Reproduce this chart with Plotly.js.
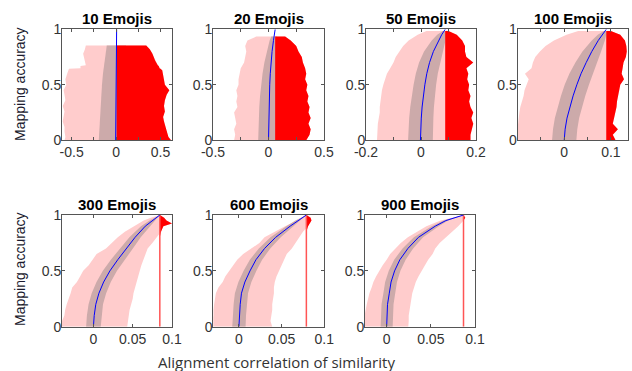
<!DOCTYPE html>
<html><head><meta charset="utf-8">
<script src="https://cdn.plot.ly/plotly-3.0.1.min.js"></script>
<style>html,body{margin:0;padding:0;background:#fff}#chart{width:632px;height:371px}</style>
</head><body><div id="chart"></div>
<script>
// ---------- data ----------
const panelTitles = ['10 Emojis','20 Emojis','50 Emojis','100 Emojis','300 Emojis','600 Emojis','900 Emojis'];
const observed = [0.007, 0.06, 0.088, 0.09, 0.0845, 0.079, 0.087];

// mapping-accuracy grid for the mean curve and its SD band
const accGrid = [0,0.1,0.2,0.3,0.4,0.5,0.6,0.7,0.8,0.9,0.95,1];

const mean10  = [-0.004,-0.003,-0.002,-0.002,-0.001,0,0.001,0.002,0.003,0.005,0.006,0.007];
const sd10    = [0.19,0.185,0.178,0.172,0.165,0.158,0.148,0.135,0.118,0.1,0.09,0.08];
const mean20  = [0,0.001,0.002,0.004,0.007,0.011,0.016,0.023,0.032,0.045,0.052,0.06];
const sd20    = [0.093,0.092,0.09,0.087,0.083,0.078,0.07,0.06,0.048,0.035,0.02,0];
const mean50  = [-0.002,-0.001,0.001,0.004,0.008,0.014,0.021,0.031,0.045,0.064,0.075,0.088];
const sd50    = [0.045,0.045,0.044,0.043,0.042,0.041,0.04,0.038,0.034,0.025,0.016,0];
const mean100 = [0,0.002,0.006,0.012,0.019,0.027,0.036,0.047,0.059,0.073,0.081,0.09];
const sd100   = [0.026,0.026,0.026,0.026,0.026,0.026,0.025,0.023,0.02,0.014,0.009,0];
const mean300 = [0,0.001,0.003,0.007,0.013,0.021,0.031,0.042,0.053,0.066,0.075,0.0845];
const sd300   = [0.0093,0.0093,0.0092,0.0092,0.0091,0.009,0.0088,0.0082,0.0072,0.0055,0.0035,0];
const mean600 = [0,0.0005,0.0015,0.003,0.007,0.013,0.02,0.03,0.043,0.06,0.069,0.079];
const sd600   = [0.0078,0.0078,0.0077,0.0077,0.0076,0.0075,0.0072,0.0067,0.006,0.0045,0.0028,0];
const mean900 = [0,0.0005,0.001,0.003,0.005,0.009,0.015,0.024,0.036,0.055,0.067,0.087];
const sd900   = [0.0068,0.0068,0.0068,0.0067,0.0067,0.0066,0.0065,0.006,0.0052,0.004,0.0025,0];

// envelopes of the null distribution (accuracy level, lower and upper correlation)
const envY10 = [0,0.03,0.08,0.12,0.17,0.21,0.26,0.31,0.36,0.41,0.45,0.5,0.55,0.6,0.63,0.645,0.65,0.67,0.675,0.72,0.78,0.82,0.855];
const lo10   = [-0.58,-0.57,-0.58,-0.58,-0.6,-0.59,-0.58,-0.6,-0.57,-0.58,-0.59,-0.56,-0.57,-0.55,-0.54,-0.53,-0.4,-0.4,-0.34,-0.35,-0.37,-0.35,-0.34];
const hi10   = [0.62,0.59,0.57,0.56,0.54,0.53,0.55,0.54,0.55,0.57,0.6,0.55,0.54,0.53,0.52,0.5,0.49,0.48,0.47,0.44,0.41,0.38,0.34];

const envY20 = [0,0.05,0.1,0.15,0.2,0.25,0.3,0.35,0.4,0.45,0.5,0.55,0.6,0.65,0.7,0.75,0.8,0.85,0.9,0.935];
const lo20   = [-0.31,-0.3,-0.31,-0.29,-0.3,-0.31,-0.28,-0.29,-0.28,-0.29,-0.27,-0.27,-0.26,-0.25,-0.22,-0.21,-0.2,-0.21,-0.19,-0.11];
const hi20   = [0.34,0.37,0.38,0.36,0.38,0.36,0.37,0.35,0.36,0.34,0.35,0.33,0.34,0.33,0.31,0.3,0.27,0.25,0.2,0.15];

const envY50 = [0,0.05,0.1,0.15,0.2,0.25,0.3,0.35,0.4,0.45,0.5,0.55,0.6,0.65,0.7,0.75,0.8,0.85,0.9,0.95,0.985];
const lo50   = [-0.16,-0.16,-0.158,-0.157,-0.154,-0.15,-0.15,-0.148,-0.145,-0.142,-0.137,-0.13,-0.124,-0.112,-0.1,-0.092,-0.078,-0.065,-0.045,-0.012,0.02];
const hi50   = [0.18,0.18,0.185,0.19,0.183,0.19,0.18,0.175,0.18,0.172,0.175,0.168,0.172,0.165,0.19,0.165,0.16,0.16,0.15,0.13,0.1];

const envY100 = [0,0.05,0.1,0.15,0.2,0.25,0.3,0.35,0.4,0.45,0.5,0.55,0.6,0.65,0.7,0.75,0.8,0.85,0.9,0.95,0.985];
const lo100   = [-0.105,-0.105,-0.1,-0.099,-0.098,-0.096,-0.094,-0.09,-0.087,-0.085,-0.08,-0.076,-0.084,-0.07,-0.067,-0.062,-0.052,-0.04,-0.022,0.005,0.03];
const hi100   = [0.11,0.104,0.115,0.104,0.107,0.11,0.112,0.113,0.115,0.118,0.12,0.128,0.123,0.125,0.127,0.132,0.134,0.133,0.13,0.12,0.1];

const envY300 = [0,0.05,0.1,0.15,0.2,0.25,0.3,0.35,0.4,0.45,0.5,0.55,0.6,0.65,0.7,0.75,0.8,0.85,0.9,0.925,0.95,0.975,1];
const lo300   = [-0.042,-0.04,-0.037,-0.036,-0.034,-0.031,-0.029,-0.027,-0.021,-0.017,-0.013,-0.006,-0.001,0.004,0.016,0.023,0.031,0.04,0.052,0.058,0.064,0.073,0.084];
const hi300   = [0.043,0.044,0.045,0.046,0.048,0.05,0.051,0.053,0.055,0.057,0.059,0.061,0.063,0.066,0.069,0.075,0.081,0.086,0.089,0.1,0.093,0.09,0.085];

const envY600 = [0,0.05,0.1,0.15,0.2,0.25,0.3,0.35,0.4,0.45,0.5,0.55,0.6,0.65,0.7,0.75,0.8,0.85,0.9,0.95,0.975,1];
const lo600   = [-0.031,-0.031,-0.03,-0.03,-0.029,-0.028,-0.027,-0.024,-0.019,-0.016,-0.011,-0.007,-0.002,0.005,0.014,0.024,0.03,0.042,0.054,0.068,0.073,0.079];
const hi600   = [0.039,0.037,0.038,0.039,0.039,0.04,0.041,0.041,0.042,0.044,0.047,0.05,0.053,0.056,0.062,0.067,0.071,0.075,0.081,0.085,0.084,0.08];

const envY900 = [0,0.05,0.1,0.15,0.2,0.25,0.3,0.35,0.4,0.45,0.5,0.55,0.6,0.65,0.7,0.75,0.8,0.85,0.9,0.95,0.975,1];
const lo900   = [-0.026,-0.026,-0.025,-0.024,-0.0225,-0.021,-0.0195,-0.017,-0.015,-0.012,-0.0085,-0.0045,0,0.004,0.01,0.016,0.024,0.034,0.045,0.061,0.073,0.085];
const hi900   = [0.0245,0.025,0.025,0.026,0.027,0.028,0.029,0.031,0.033,0.036,0.039,0.043,0.047,0.052,0.055,0.06,0.067,0.074,0.081,0.087,0.089,0.087];

// tick labels
const yTickVals = [0,0.5,1];
const yTickText = ['0','0.5','1'];
const xTickVals = [[-0.5,-0.25,0,0.25,0.5],[-0.5,-0.25,0,0.25,0.5],[-0.2,-0.1,0,0.1,0.2],[-0.05,0,0.05,0.1],[0,0.05,0.1],[0,0.05,0.1],[0,0.05,0.1]];
const xTickText = [['-0.5','','0','','0.5'],['-0.5','','0','','0.5'],['-0.2','','0','','0.2'],['','0','','0.1'],['0','0.05','0.1'],['0','0.05','0.1'],['0','0.05','0.1']];

// ---------- layout (pixel geometry) ----------
const W = 632, H = 371;
const boxes = [ // [left,right,top,bottom] in px
  [62,172,29.3,140.3],[213,324,29.3,140.3],[366,476,29.3,140.3],[517.5,627.5,29.3,140.3],
  [62,172,215,326.7],[213.3,324.3,215,326.7],[365,475,215,326.7]
];
const xRanges = [[-0.608,0.63],[-0.5,0.5],[-0.2,0.2],[-0.1,0.1355],[-0.04,0.1],[-0.03,0.1],[-0.0245,0.1]];

const panels = [
  {mean:mean10, sd:sd10, envY:envY10, lo:lo10, hi:hi10},
  {mean:mean20, sd:sd20, envY:envY20, lo:lo20, hi:hi20},
  {mean:mean50, sd:sd50, envY:envY50, lo:lo50, hi:hi50},
  {mean:mean100, sd:sd100, envY:envY100, lo:lo100, hi:hi100},
  {mean:mean300, sd:sd300, envY:envY300, lo:lo300, hi:hi300},
  {mean:mean600, sd:sd600, envY:envY600, lo:lo600, hi:hi600},
  {mean:mean900, sd:sd900, envY:envY900, lo:lo900, hi:hi900}
];

const PINK = 'rgb(255,204,204)', BAND = 'rgb(204,170,170)', RED = 'rgb(255,0,0)';

function interp(v, xs, ys){
  for (let k=1;k<xs.length;k++){ if (v<=xs[k]){ const t=(v-xs[k-1])/(xs[k]-xs[k-1]); return ys[k-1]+t*(ys[k]-ys[k-1]); } }
  return ys[ys.length-1];
}

const traces = [];
const layout = {width:W, height:H, margin:{l:0,r:0,t:0,b:0}, autosize:false, showlegend:false,
  paper_bgcolor:'#fff', plot_bgcolor:'#fff', annotations:[]};
const tickFont = {family:'Liberation Sans, Arial, sans-serif', size:14, color:'#333'};

panels.forEach((p,i)=>{
  const n = i ? String(i+1) : '';
  const xa = 'x'+n, ya = 'y'+n;
  const obs = observed[i];
  const top = p.envY[p.envY.length-1];
  const common = {type:'scatter', mode:'lines', xaxis:xa, yaxis:ya, hoverinfo:'skip'};
  // null-distribution envelope
  traces.push(Object.assign({}, common, {
    x: p.lo.concat(p.hi.slice().reverse()), y: p.envY.concat(p.envY.slice().reverse()),
    fill:'toself', fillcolor:PINK, line:{width:0, color:PINK}}));
  // SD band around mean
  const by=[], bm=[], bs=[];
  accGrid.forEach((a,k)=>{ if (a < top - 1e-9){ by.push(a); bm.push(p.mean[k]); bs.push(p.sd[k]); } });
  by.push(top); bm.push(interp(top, accGrid, p.mean)); bs.push(interp(top, accGrid, p.sd));
  const bl = bm.map((m,k)=>m-bs[k]), bh = bm.map((m,k)=>m+bs[k]);
  traces.push(Object.assign({}, common, {
    x: bl.concat(bh.slice().reverse()), y: by.concat(by.slice().reverse()),
    fill:'toself', fillcolor:BAND, line:{width:0, color:BAND}}));
  // part of the envelope beyond the observed value
  const rx = p.hi.map(v=>Math.max(v,obs));
  traces.push(Object.assign({}, common, {
    x: [obs].concat(rx,[obs]), y: [p.envY[0]].concat(p.envY,[top]),
    fill:'toself', fillcolor:RED, line:{width:0, color:RED}}));
  if (i >= 4){
    traces.push(Object.assign({}, common, {x:[obs,obs], y:[0,1], line:{color:'rgb(255,85,85)', width:1.5}}));
  }
  // mean curve
  traces.push(Object.assign({}, common, {x:p.mean, y:accGrid, line:{color:'#0000ff', width:1}}));

  const b = boxes[i];
  const axCommon = {showline:true, mirror:'ticks', linecolor:'#555', linewidth:1, ticks:'inside', ticklen:3,
    tickcolor:'#555', tickwidth:1, showgrid:false, zeroline:false, tickfont:tickFont, fixedrange:true};
  layout['xaxis'+n] = Object.assign({}, axCommon, {domain:[b[0]/W, b[1]/W], range:xRanges[i], anchor:ya,
    tickmode:'array', tickvals:xTickVals[i], ticktext:xTickText[i], ticklabelstandoff:-1});
  layout['yaxis'+n] = Object.assign({}, axCommon, {domain:[1-b[3]/H, 1-b[2]/H], range:[0,1], anchor:xa,
    tickmode:'array', tickvals:yTickVals, ticktext:yTickText, ticklabelstandoff:-3});
  layout.annotations.push({xref:'paper', yref:'paper', x:(b[0]+b[1])/2/W, y:1-(b[2]-11)/H,
    text:'<b>'+panelTitles[i]+'</b>', showarrow:false, xanchor:'center', yanchor:'middle',
    font:{family:'Liberation Sans, Arial, sans-serif', size:15, color:'#000'}});
});

const labFont = {family:'Liberation Sans, Arial, sans-serif', size:14, color:'#1a1a2e'};
layout.annotations.push({xref:'paper', yref:'paper', x:20/W, y:1-84/H, text:'Mapping accuracy', textangle:-90,
  showarrow:false, xanchor:'center', yanchor:'middle', font:labFont});
layout.annotations.push({xref:'paper', yref:'paper', x:20/W, y:1-269/H, text:'Mapping accuracy', textangle:-90,
  showarrow:false, xanchor:'center', yanchor:'middle', font:labFont});
layout.annotations.push({xref:'paper', yref:'paper', x:276/W, y:1-362/H, text:'Alignment correlation of similarity',
  showarrow:false, xanchor:'center', yanchor:'middle', font:{family:'Open Sans, sans-serif', size:15, color:'#333'}});

Plotly.newPlot('chart', traces, layout, {staticPlot:true, displayModeBar:false});
</script>
</body></html>
